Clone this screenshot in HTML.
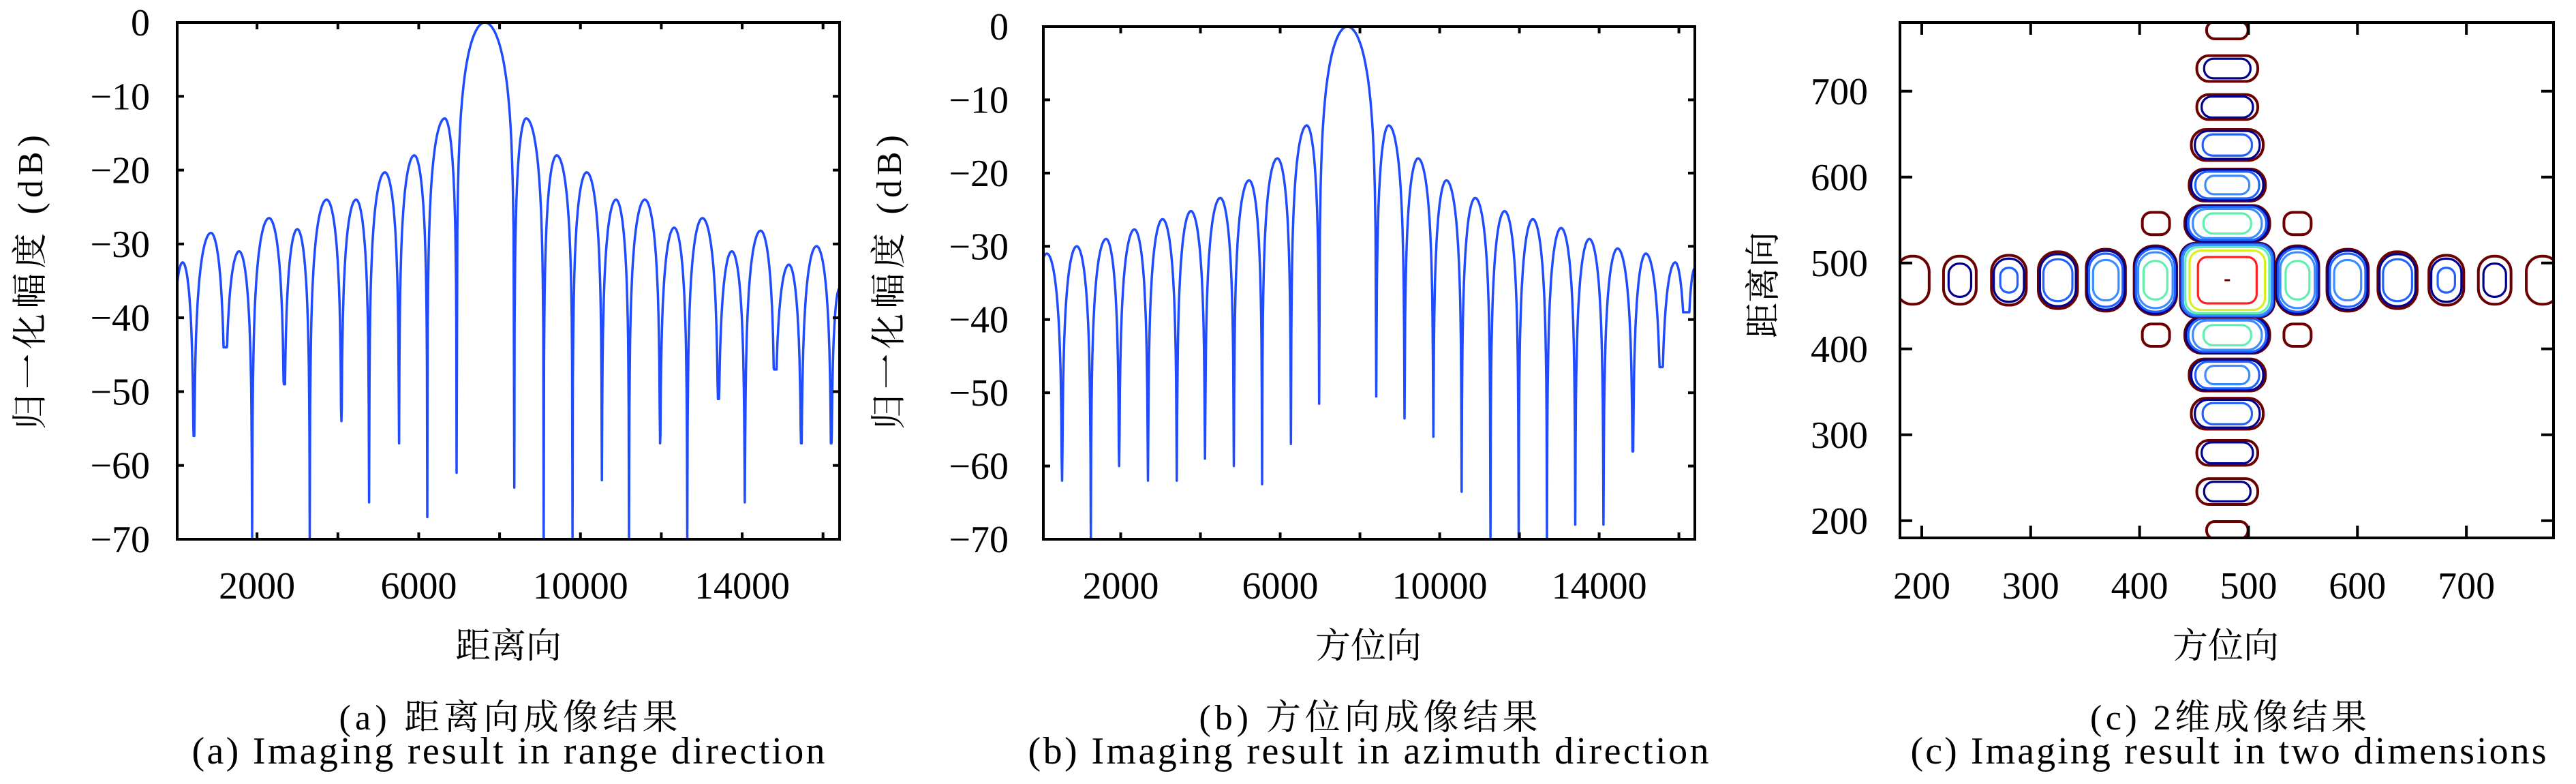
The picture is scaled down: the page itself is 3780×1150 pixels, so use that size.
<!DOCTYPE html>
<html><head><meta charset="utf-8"><style>
html,body{margin:0;padding:0;background:#fff;}
svg{display:block;}
text{font-family:"Liberation Serif","Noto Serif CJK SC","Noto Sans CJK SC",serif;fill:#000;}
</style></head><body>
<svg id="fig" width="3780" height="1150" viewBox="0 0 3780 1150" xmlns="http://www.w3.org/2000/svg">
<defs>
<clipPath id="clipA"><rect x="260" y="33" width="972" height="758"/></clipPath>
<clipPath id="clipB"><rect x="1531" y="39" width="956" height="752"/></clipPath>
<clipPath id="clipC"><rect x="2788" y="33" width="959" height="756"/></clipPath>
</defs>
<g id="layer"></g>
</svg>
<script>
// ---------- Panel (a): range direction ----------
const rangePeaksX = [160,860,1557,2299,2997,3723,4450,5163,5890,6644,7635,8657,9412,10154,10880,11593,12319,13018,13745,14457,15156,15840];
const rangePeaksV = [-32.5,-28.5,-31,-26.5,-28,-24,-24,-20.3,-18,-13,0,-13,-18,-20.3,-24,-24,-27.8,-26.5,-31,-28.2,-32.8,-30.3];
const rangeNullsX = [438,1208,1879,2675,3304,4087,4772,5513,6211,6937,8364,9091,9804,10530,11201,11970,12642,13410,14066,14807,15463,16204];
const rangeNullsV = [-56,-44,-70,-49,-70,-54,-65,-57,-67,-61,-63,-70,-70,-62,-70,-57,-70,-51,-65,-47,-57,-57];
const rangeEndV = -36;
// ---------- Panel (b): azimuth direction ----------
const azPeaksX = [147,898,1634,2344,3051,3761,4498,5221,5930,6667,7688,8722,9458,10168,10891,11628,12337,13045,13754,14462,15171,15908];
const azPeaksV = [-31,-30,-29,-27.7,-26.3,-25.2,-23.4,-21,-18,-13.5,0,-13.5,-18,-21,-23.4,-25.2,-26.3,-27.5,-29,-30.3,-31,-32.2];
const azNullsX = [530,1251,1961,2684,3407,4115,4838,5547,6270,6978,8410,9118,9841,10551,11274,11981,12691,13400,14108,14845,15554,16192];
const azNullsV = [-62,-70,-60,-62,-62,-59,-60,-62.5,-57,-51.5,-50.5,-53.5,-56,-63.5,-70,-70,-70,-68,-68,-58,-46.5,-39];
const azEndV = -33;
const yTicks = [0,-10,-20,-30,-40,-50,-60,-70];
const xTickLabels = [2000,6000,10000,14000];
const xTickMarks = [2000,4000,6000,8000,10000,12000,14000,16000];
// ---------- Panel (c): 2-D contour ----------
const cTicks = [200,300,400,500,600,700];
const contourLevels = [-35,-30,-25,-20,-15,-10,-5];
const contourColors = ["#6b0000","#00008f","#2060ff","#3a8cff","#5ff0b0","#d8f020","#ff2020"];
const hLobeX = [191.8,235,280,325,369,414.5,545,591,636.8,681.6,726,770];
const hLobePeak = [-31,-28,-24,-21,-17,-13,-13,-17,-21,-24,-28,-31];
const hLobeRx = [15,15,16,18,18,19.5,19.5,19,18,16,15,15];
const hLobeRy = [28,28,29,33,36,40,40,36,33,29,28,28];
const vLobeY = [771,726.4,681.6,637.4,590.8,546,416,369.6,324.6,279,233.9,189];
const vLobePeak = [-30,-27,-25,-22,-18,-13,-13,-18,-22,-25,-27,-30];
const vLobeRx = [19,28,28,33,35,39,39,35,33,28,28,19];
const vLobeRy = [10,15,14.5,18,18.6,21,21,18.6,18,14.5,15,10];
const cornerX = [415,545,415,545];
const cornerY = [546,546,416,416];
const mainLobe = {x:480.5, y:480, rx:43, ry:43, peak:0};

const NS = "http://www.w3.org/2000/svg";
const layer = document.getElementById('layer');
function mk(tag, attrs, parent){
  const e = document.createElementNS(NS, tag);
  for (const k in attrs) e.setAttribute(k, attrs[k]);
  (parent||layer).appendChild(e);
  return e;
}
function txt(str, x, y, size, anchor, parent){
  const t = mk('text', {x:x, y:y, 'font-size':size, 'text-anchor':anchor||'middle'}, parent);
  t.textContent = str;
  return t;
}

function dbShape(peak, t){
  const c = Math.cos(Math.PI/2*Math.min(t,0.9999));
  return peak + 20*Math.log10(Math.max(c,1e-6));
}
function buildProfile(px, pv, nx, nv, endV, xmax){
  const pts = [];
  const n = px.length;
  for (let i=0;i<n;i++){
    const p = px[i], peak = pv[i];
    const n1 = i===0 ? p-(nx[0]-p) : nx[i-1];
    const v1 = i===0 ? -70 : nv[i-1];
    const n2 = nx[i], v2 = nv[i];
    if (i>0) pts.push([n1, v1]);
    for (let k=0;k<=40;k++){
      const x = n1 + (p-n1)*k/40;
      if (x < 0) continue;
      pts.push([x, Math.max(dbShape(peak,(p-x)/(p-n1)), v1)]);
    }
    for (let k=1;k<40;k++){
      const x = p + (n2-p)*k/40;
      pts.push([x, Math.max(dbShape(peak,(x-p)/(n2-p)), v2)]);
    }
  }
  const nl = nx[n-1], vl = nv[n-1];
  pts.push([nl, vl]);
  for (let k=1;k<=30;k++){
    const x = nl + (xmax-nl)*k/30;
    const s = Math.sin(Math.PI/2*k/30);
    pts.push([x, Math.max(endV+20*Math.log10(Math.max(s,1e-6)), vl)]);
  }
  return pts;
}

function profilePanel(cfg){
  const g = mk('g', {});
  
  
  const L=cfg.L, T=cfg.T, R=cfg.R, B=cfg.B;
  const sx = v => L + (v-cfg.xmin)/(cfg.xmax-cfg.xmin)*(R-L);
  const sy = v => T + (0-v)/70*(B-T);
  const pts = buildProfile(cfg.px, cfg.pv, cfg.nx, cfg.nv, cfg.endV, cfg.xmax);
  const d = pts.map((p,i)=>(i?'L':'M')+sx(p[0]).toFixed(1)+' '+sy(Math.max(p[1],-71)).toFixed(1)).join(' ');
  const line = mk('path', {d:d, fill:'none', stroke:'#1f4cff', 'stroke-width':3.5, 'stroke-linejoin':'round', 'clip-path':'url(#'+cfg.clip+')'}, g);
  
  
  yTicks.forEach(v=>{
    const y = sy(v);
    mk('line',{x1:L,y1:y,x2:L+10,y2:y,stroke:'#000','stroke-width':4},g);
    mk('line',{x1:R,y1:y,x2:R-10,y2:y,stroke:'#000','stroke-width':4},g);
    const t = txt(v===0?'0':'\u2212'+Math.abs(v), cfg.ylabR, y+19, 56, 'end', g);
    
    
  });
  xTickMarks.forEach(v=>{
    const x = sx(v);
    mk('line',{x1:x,y1:B,x2:x,y2:B-10,stroke:'#000','stroke-width':4},g);
    mk('line',{x1:x,y1:T,x2:x,y2:T+10,stroke:'#000','stroke-width':4},g);
  });
  xTickLabels.forEach(v=>{
    const t = txt(String(v), sx(v), 878, 56, 'middle', g);
    
    
  });
  const frame = mk('rect',{x:L,y:T,width:R-L,height:B-T,fill:'none',stroke:'#000','stroke-width':4},g);
  
  
  const yl = txt('归一化幅度 (dB)', 0, 0, 52, 'middle', g);
  yl.setAttribute('transform','translate('+cfg.ylabX+',414) rotate(-90)');
  yl.setAttribute('textLength','432');
  
  
  const xl = txt(cfg.xtitle, cfg.cx, 965, 52, 'middle', g);
  
  
  const c1 = txt(cfg.cap1, cfg.cx, 1070, 52, 'middle', g);
  c1.setAttribute('textLength','497');
  
  
  const c2 = txt(cfg.cap2, cfg.cx, 1120, 56, 'middle', g);
  c2.setAttribute('textLength', cfg.cap2w);
  
  
}

profilePanel({name:'range-profile-chart', L:260,T:33,R:1232,B:791, xmin:25, xmax:16410,
  px:rangePeaksX, pv:rangePeaksV, nx:rangeNullsX, nv:rangeNullsV, endV:rangeEndV, clip:'clipA',
  ylabR:220, ylabX:62, xtitle:'距离向', cx:746, cap1:'(a) 距离向成像结果', cap2:'(a) Imaging result in range direction', cap2w:929});
profilePanel({name:'azimuth-profile-chart', L:1531,T:39,R:2487,B:791, xmin:60, xmax:16400,
  px:azPeaksX, pv:azPeaksV, nx:azNullsX, nv:azNullsV, endV:azEndV, clip:'clipB',
  ylabR:1480, ylabX:1322, xtitle:'方位向', cx:2008, cap1:'(b) 方位向成像结果', cap2:'(b) Imaging result in azimuth direction', cap2w:999});

(function(){
  const g = mk('g', {});
  
  
  const L=2788,T=33,R=3747,B=789, dmin=180, dmax=780;
  const sx = v => L + (v-dmin)/(dmax-dmin)*(R-L);
  const sy = v => B - (v-dmin)/(dmax-dmin)*(B-T);
  const kx = (R-L)/(dmax-dmin), ky = (B-T)/(dmax-dmin);
  const cg = mk('g', {'clip-path':'url(#clipC)'}, g);
  function lobe(cx, cy, rx, ry, peak, corner, expo){
    contourLevels.forEach((lv, i)=>{
      if (lv >= peak) return;
      const t = (2/Math.PI)*Math.acos(Math.pow(10,(lv-peak)/20));
      const t0 = (2/Math.PI)*Math.acos(Math.pow(10,(contourLevels[0]-peak)/20));
      const s = i===0 ? 1 : Math.pow(t/t0, expo);
      const w = 2*rx*kx*s, h = 2*ry*ky*s;
      const r = mk('rect', {x:sx(cx)-w/2, y:sy(cy)-h/2, width:w, height:h,
        rx:Math.min(w,h)/2*corner, fill:'none', stroke:contourColors[i], 'stroke-width': i===0?4:3.2}, cg);
      
      
    });
  }
  hLobeX.forEach((x,i)=>lobe(x, 480, hLobeRx[i], hLobeRy[i], hLobePeak[i], 0.95, 0.7));
  vLobeY.forEach((y,i)=>lobe(480.5, y, vLobeRx[i], vLobeRy[i], vLobePeak[i], 0.95, 0.7));
  cornerX.forEach((x,i)=>lobe(x, cornerY[i], 12.5, 13, -30, 0.8, 0.7));
  lobe(mainLobe.x, mainLobe.y, mainLobe.rx, mainLobe.ry, mainLobe.peak, 0.4, 1);
  const dot = mk('line',{x1:sx(480.5)-4,y1:sy(480),x2:sx(480.5)+4,y2:sy(480),stroke:'#6b0000','stroke-width':3},cg);
  
  
  cTicks.forEach(v=>{
    mk('line',{x1:sx(v),y1:B,x2:sx(v),y2:B-18,stroke:'#000','stroke-width':4},g);
    mk('line',{x1:sx(v),y1:T,x2:sx(v),y2:T+18,stroke:'#000','stroke-width':4},g);
    mk('line',{x1:L,y1:sy(v),x2:L+18,y2:sy(v),stroke:'#000','stroke-width':4},g);
    mk('line',{x1:R,y1:sy(v),x2:R-18,y2:sy(v),stroke:'#000','stroke-width':4},g);
    const tx = txt(String(v), sx(v), 878, 56, 'middle', g);
    
    
    const ty = txt(String(v), 2741, sy(v)+19, 56, 'end', g);
    
    
  });
  const frame = mk('rect',{x:L,y:T,width:R-L,height:B-T,fill:'none',stroke:'#000','stroke-width':4},g);
  
  
  const yl = txt('距离向', 0, 0, 52, 'middle', g);
  yl.setAttribute('transform','translate(2605,418) rotate(-90)');
  
  
  const xl = txt('方位向', 3266, 965, 52, 'middle', g);
  
  
  const c1 = txt('(c) 2维成像结果', 3270, 1070, 52, 'middle', g);
  c1.setAttribute('textLength','406');
  
  
  const c2 = txt('(c) Imaging result in two dimensions', 3270, 1120, 56, 'middle', g);
  c2.setAttribute('textLength','933');
  
  
})();
</script>
</body></html>
